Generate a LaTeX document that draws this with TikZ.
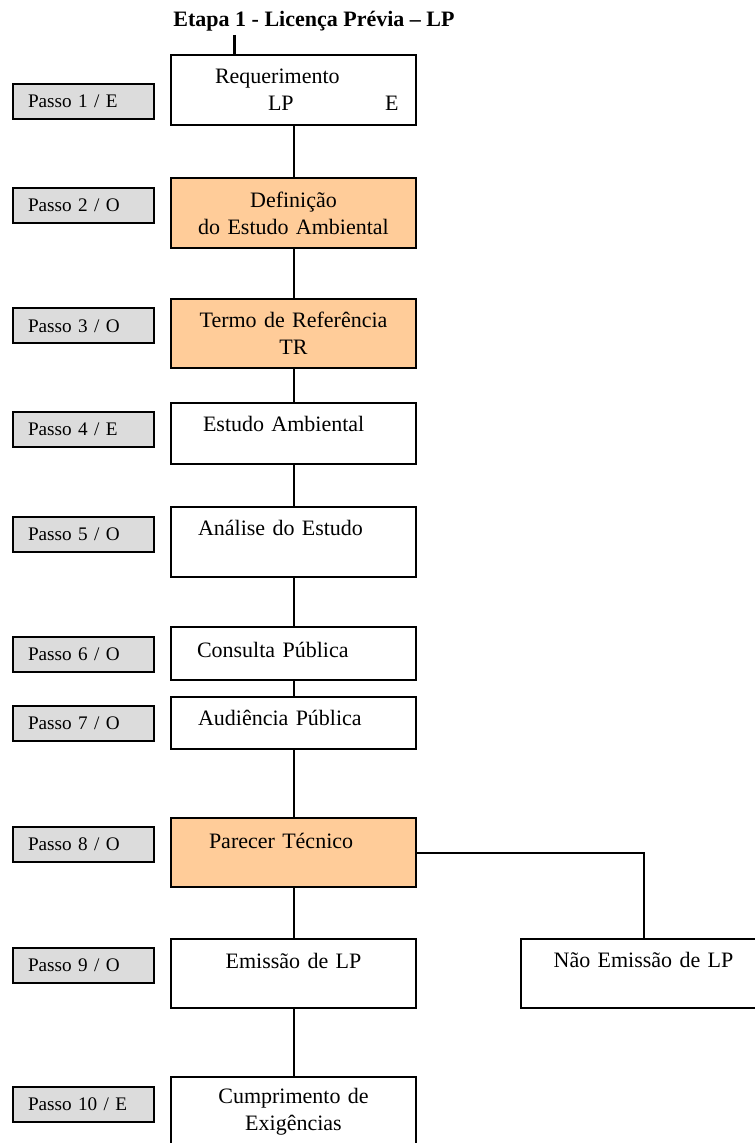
\documentclass[tikz,border=0pt]{standalone}
\usepackage{fontspec}
\setmainfont{Liberation Serif}
\usetikzlibrary{positioning,calc}
\definecolor{laranja}{HTML}{FFCC99}
\definecolor{cinza}{HTML}{DCDCDC}

\begin{document}
\begin{tikzpicture}[x=0.5pt,y=-0.5pt,
        passo/.style={rectangle,draw=black,line width=1pt,fill=cinza,minimum width=70.5pt,minimum height=17.5pt,text width=55.5pt,inner xsep=7.5pt,align=left,font=\fontsize{9.6}{12}\selectfont},
        caixa/.style={rectangle,draw=black,line width=1pt,fill=white,minimum width=122.5pt,text width=122.5pt,inner xsep=0pt,align=center,font=\fontsize{11}{13.5}\selectfont},
        linha/.style={text height=8pt},
        liga/.style={draw=black,line width=1pt}]
        \useasboundingbox (0,0) rectangle (754,1143);

        \node[font=\bfseries\fontsize{11}{13}\selectfont] (titulo) at (314,21) {Etapa 1 - Licença Prévia – LP};
        \coordinate (marca) at (234,35);

        \node[caixa,minimum height=35pt,align=left] (req) at (293.5,90) {\hspace*{22pt}Requerimento\\\hspace*{48.5pt}\makebox[58.5pt][l]{LP}E};
        \node[caixa,fill=laranja,minimum height=35pt] (def) at (293.5,213) {Definição\\do Estudo Ambiental};
        \node[caixa,fill=laranja,minimum height=34.5pt] (termo) at (293.5,333.5) {Termo de Referência\\TR};
        \node[caixa,linha,text depth=9.5pt,minimum height=30.5pt,align=left] (estudo) at (293.5,433.5) {\hspace*{16pt}Estudo Ambiental};
        \node[caixa,linha,text depth=15pt,minimum height=35pt,align=left] (analise) at (293.5,542) {\hspace*{13.5pt}Análise do Estudo};
        \node[caixa,linha,text depth=4.5pt,minimum height=26.5pt,align=left] (consulta) at (293.5,653.5) {\hspace*{13pt}Consulta Pública};
        \node[caixa,linha,text depth=6pt,minimum height=26pt,align=left] (audiencia) at (293.5,723) {\hspace*{13.5pt}Audiência Pública};
        \node[caixa,fill=laranja,linha,text depth=12pt,minimum height=34.5pt,align=left] (parecer) at (293.5,852.5) {\hspace*{19pt}Parecer Técnico};
        \node[caixa,linha,text depth=13pt,minimum height=34.5pt] (emissao) at (293.5,973.5) {Emissão de LP};
        \node[caixa,linha,text depth=14pt,minimum height=34.5pt] (naoemissao) at (643.5,973.5) {Não Emissão de LP};
        \node[caixa,minimum height=35pt] (cumprimento) at (293.5,1112) {Cumprimento de\\Exigências};

        \node[passo] (passo1) at (83.5,101.5) {Passo 1 / E};
        \node[passo] (passo2) at (83.5,205.5) {Passo 2 / O};
        \node[passo] (passo3) at (83.5,326) {Passo 3 / O};
        \node[passo] (passo4) at (83.5,429.5) {Passo 4 / E};
        \node[passo] (passo5) at (83.5,534) {Passo 5 / O};
        \node[passo] (passo6) at (83.5,654.5) {Passo 6 / O};
        \node[passo] (passo7) at (83.5,723.5) {Passo 7 / O};
        \node[passo] (passo8) at (83.5,844.5) {Passo 8 / O};
        \node[passo] (passo9) at (83.5,965.5) {Passo 9 / O};
        \node[passo] (passo10) at (83.5,1104.5) {Passo 10 / E};

        \draw[line width=1.5pt] (marca) -- (marca |- req.north);
        \draw[liga] (req) -- (def);
        \draw[liga] (def) -- (termo);
        \draw[liga] (termo) -- (estudo);
        \draw[liga] (estudo) -- (analise);
        \draw[liga] (analise) -- (consulta);
        \draw[liga] (consulta) -- (audiencia);
        \draw[liga] (audiencia) -- (parecer);
        \draw[liga] (parecer) -- (emissao);
        \draw[liga] (parecer.east) -| (naoemissao.north);
        \draw[liga] (emissao) -- (cumprimento);
    \end{tikzpicture}
\end{document}
